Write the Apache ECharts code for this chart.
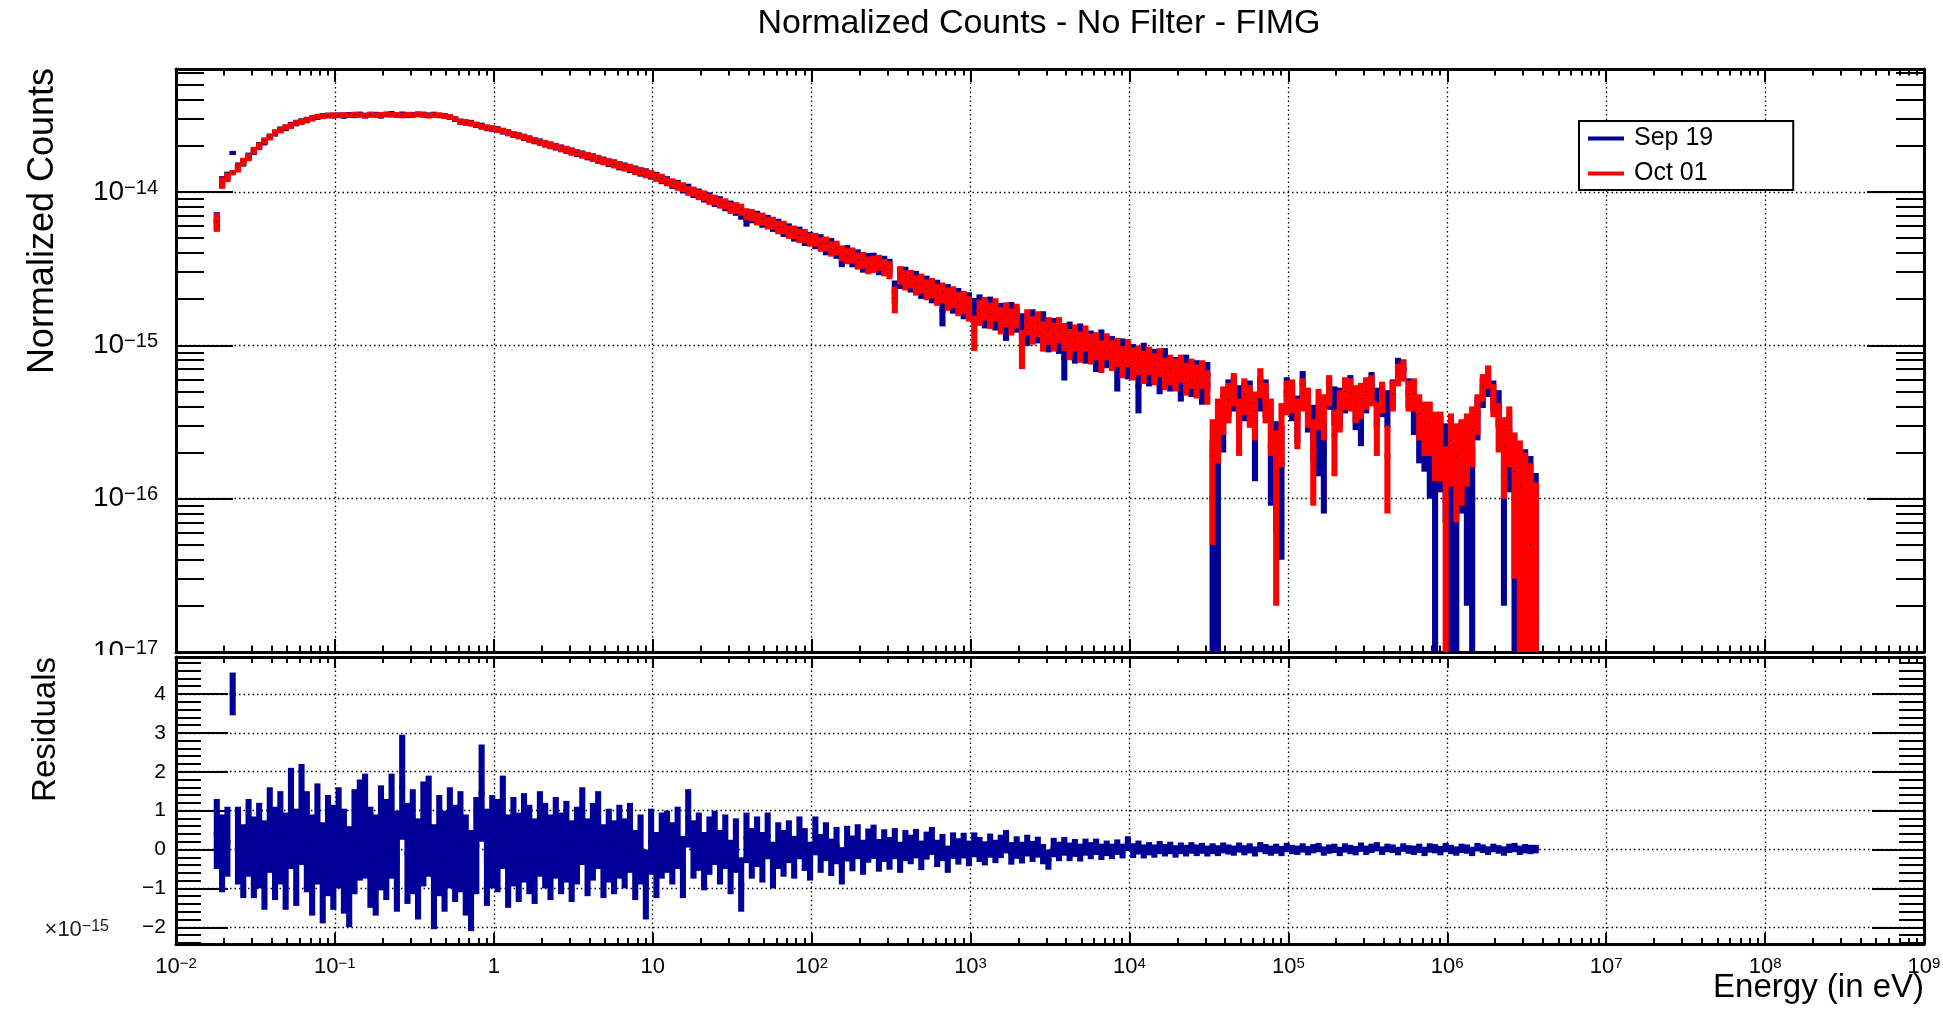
<!DOCTYPE html>
<html>
<head>
<meta charset="utf-8">
<title>Normalized Counts - No Filter - FIMG</title>
<script src="https://cdn.jsdelivr.net/npm/echarts@6/dist/echarts.min.js"></script>
<style>
html, body { margin: 0; padding: 0; background: #fff; }
#chart { width: 1943px; height: 1010px; }
</style>
</head>
<body>
<div id="chart"></div>
<script>
// histogram binning (log spaced bins, same for both runs)
var binLogStart = -1.76;
var binsPerDecade = 30;

// Sep 19 normalized counts, in units of 1e-16
var sep19 = [
    65, 117, 127, 180, 146, 156, 171, 185, 201, 213,
    230, 242, 256, 262, 274, 281, 290, 294, 304, 308,
    314, 317, 315, 318, 314, 320, 317, 322, 316, 319,
    321, 315, 320, 324, 318, 322, 317, 320, 323, 319,
    318, 321, 316, 315, 308, 299, 289, 284, 283, 274,
    271, 262, 259, 257, 249, 245, 237, 234, 227, 223,
    216, 213, 206, 203, 197, 194, 188, 185, 179, 177,
    171, 169, 163, 161, 155, 154, 148, 147, 142, 140,
    135, 134, 129, 127, 121, 119, 113, 112, 106, 106,
    99, 98, 93, 92, 87, 87, 82, 81, 77, 73,
    66, 69, 69, 65, 65, 61, 61, 57, 57, 53,
    54, 50, 50, 47.4, 48.1, 43.7, 45.3, 41.5, 37.2, 40.5,
    36.9, 37.8, 34.3, 35.6, 35.8, 32.9, 34.2, 32.5, 22.5, 27.3,
    28.6, 25.9, 26.8, 23.9, 24.9, 22.4, 23.3, 16.8, 21.6, 19.5,
    20.3, 18.1, 18.9, 17.2, 18.3, 16.0, 17.7, 15.5, 15.9, 13.7,
    16.3, 15.0, 13.4, 12.7, 14.5, 13.0, 14.1, 11.6, 12.6, 11.3,
    8.3, 11.9, 9.9, 11.6, 9.8, 10.3, 8.8, 10.6, 9.1, 9.5,
    7.0, 9.2, 7.9, 8.3, 5.4, 8.6, 7.1, 7.8, 6.5, 8.0,
    6.6, 6.8, 5.8, 7.2, 6.1, 6.5, 5.5, 6.4, 1.0, 1.5,
    3.4, 4.7, 5.0, 4.2, 4.5, 4.6, 2.6, 5.0, 4.7, 2.2,
    1.9, 1.7, 5.0, 4.4, 3.5, 5.6, 3.9, 2.9, 2.6, 2.0,
    5.0, 4.2, 4.1, 4.8, 5.2, 4.0, 3.4, 4.8, 5.5, 4.1,
    4.5, 4.0, 4.9, 7.2, 7.0, 5.0, 3.8, 2.9, 2.7, 2.2,
    1.3, 2.3, 1.9, 1.1, 0.85, 2.0, 1.4, 1.0, 3.5, 5.0,
    5.7, 4.8, 4.0, 1.4, 2.3, 1.0, 0.75, 0.9, 0.7, 0.37
];

// Oct 01 normalized counts, in units of 1e-16
var oct01 = [
    64, 115, 125, 134, 144, 158, 169, 187, 199, 216,
    228, 245, 253, 265, 271, 284, 287, 297, 301, 311,
    312, 315, 318, 316, 319, 317, 321, 318, 315, 322,
    317, 319, 323, 319, 320, 316, 321, 318, 320, 322,
    315, 318, 318, 313, 310, 301, 287, 286, 280, 276,
    267, 264, 261, 255, 251, 243, 239, 232, 229, 221,
    218, 211, 208, 201, 199, 192, 190, 183, 181, 175,
    173, 167, 165, 159, 157, 152, 150, 145, 144, 138,
    137, 132, 131, 125, 123, 117, 115, 110, 108, 102,
    101, 96, 95, 90, 89, 85, 84, 79, 79, 77,
    72, 71, 67, 67, 63, 63, 59, 59, 55, 55,
    52, 52, 49, 49.2, 45.8, 46.3, 42.7, 43.4, 40.1, 38.4,
    38.9, 35.7, 36.2, 33.5, 34.1, 34.8, 32.4, 31.2, 20.2, 28.9,
    26.8, 27.3, 24.9, 25.6, 23.3, 23.9, 21.6, 22.2, 20.3, 20.9,
    18.9, 19.4, 17.6, 12.4, 16.6, 17.6, 15.9, 17.3, 14.8, 16.1,
    14.5, 15.8, 9.8, 14.4, 12.8, 14.0, 11.7, 12.7, 11.6, 12.8,
    11.6, 10.4, 11.4, 10.0, 11.3, 9.7, 10.1, 8.7, 10.0, 8.8,
    9.2, 8.0, 9.1, 7.8, 8.2, 7.4, 8.1, 7.2, 7.9, 6.7,
    7.1, 6.6, 7.2, 6.2, 6.7, 6.0, 6.6, 5.5, 1.9, 3.1,
    4.0, 4.4, 5.3, 3.2, 4.8, 4.2, 3.7, 5.8, 4.4, 3.2,
    1.5, 2.9, 4.7, 4.8, 3.3, 4.9, 4.1, 2.1, 4.0, 3.6,
    5.2, 2.6, 3.9, 5.0, 4.9, 4.3, 4.5, 5.0, 5.2, 3.1,
    4.7, 1.9, 4.8, 6.5, 6.9, 4.8, 4.9, 3.6, 3.1, 3.1,
    2.5, 2.5, 1.0, 2.4, 1.9, 2.1, 2.4, 2.8, 3.7, 5.4,
    6.3, 4.5, 3.1, 2.2, 2.8, 1.5, 1.2, 0.8, 0.5, 0.18
];

// residuals Sep 19 - Oct 01, in units of 1e-15
var resid = [
    0.4, -0.1, 0.2, 4.0, 0.1, -0.3, 0.3, -0.2, 0.1, -0.4,
    0.5, -0.1, 0.3, -0.3, 0.8, -0.2, 0.9, 0.2, -0.4, 0.4,
    -0.6, 0.1, -0.2, 0.3, -0.3, -0.7, 0.2, 0.5, 0.6, -0.2,
    -0.4, 0.3, 0.0, 0.6, -0.3, 1.6, -0.1, 0.2, -0.5, 0.4,
    0.6, -0.7, 0.1, -0.3, 0.3, -0.1, 0.2, -0.4, -0.8, 0.1,
    1.45, -0.2, 0.2, 0.1, 0.7, -0.3, 0.2, -0.2, 0.3, 0.0,
    -0.3, 0.4, 0.1, -0.2, 0.3, -0.1, 0.2, -0.3, 0.1, 0.6,
    -0.2, 0.2, 0.5, -0.3, 0.1, -0.2, 0.2, -0.1, 0.3, -0.4,
    0.0, -0.9, 0.2, -0.4, 0.1, 0.2, -0.1, 0.3, -0.45, 0.8,
    0.0, 0.2, -0.3, 0.1, 0.3, -0.2, 0.2, -0.45, 0.1, -0.9,
    0.3, -0.1, 0.2, -0.2, 0.35, -0.4, 0.1, -0.1, 0.2, -0.2,
    0.3, 0.0, -0.3, 0.35, -0.1, 0.2, -0.2, 0.1, -0.42, 0.15,
    -0.1, 0.2, -0.2, 0.1, 0.2, -0.15, 0.1, -0.1, 0.15, -0.2,
    0.1, 0.0, 0.15, -0.15, 0.1, 0.22, -0.1, 0.05, -0.25, 0.1,
    -0.05, 0.1, -0.1, 0.12, 0.0, -0.1, 0.1, -0.05, 0.08, 0.2,
    -0.1, 0.05, -0.08, 0.1, -0.05, 0.06, -0.12, -0.26, 0.05, -0.05,
    0.08, -0.06, 0.04, -0.08, 0.06, -0.03, 0.07, -0.06, 0.03, -0.05,
    0.06, -0.04, 0.15, -0.03, 0.05, -0.05, 0.02, -0.04, 0.05, -0.02,
    0.04, -0.05, 0.03, -0.03, 0.04, -0.02, 0.03, -0.04, 0.02, -0.03,
    0.04, 0.0, -0.03, 0.05, -0.02, 0.03, -0.05, 0.06, 0.01, -0.03,
    0.02, -0.04, 0.05, 0.0, -0.02, 0.04, -0.03, 0.02, 0.05, -0.04,
    0.01, 0.03, -0.05, 0.04, 0.0, -0.03, 0.06, -0.02, 0.03, 0.07,
    -0.03, 0.04, 0.02, -0.04, 0.05, 0.0, -0.02, 0.03, -0.05, 0.04,
    0.02, -0.03, 0.05, 0.0, -0.04, 0.03, 0.01, -0.05, 0.06, 0.02,
    -0.03, 0.04, 0.0, -0.04, 0.03, 0.05, -0.02, 0.02, 0.0, 0.01
];

// error of the residuals, in units of 1e-15
var residErr = [
    0.9, 1.0, 0.9, 0.55, 1.0, 0.95, 1.0, 1.05, 1.1, 1.15,
    1.1, 1.2, 1.2, 1.25, 1.3, 1.25, 1.3, 1.3, 1.3, 1.3,
    1.3, 1.3, 1.35, 1.3, 1.35, 1.3, 1.35, 1.3, 1.35, 1.3,
    1.3, 1.35, 1.3, 1.35, 1.3, 1.35, 1.3, 1.35, 1.3, 1.35,
    1.3, 1.35, 1.3, 1.3, 1.3, 1.25, 1.3, 1.3, 1.3, 1.25,
    1.25, 1.25, 1.2, 1.2, 1.2, 1.2, 1.15, 1.15, 1.15, 1.15,
    1.1, 1.1, 1.1, 1.1, 1.05, 1.05, 1.05, 1.05, 1.0, 1.0,
    1.0, 1.0, 1.0, 0.95, 0.95, 0.95, 0.95, 0.9, 0.9, 0.9,
    0.9, 0.9, 0.85, 0.85, 0.85, 0.8, 0.8, 0.8, 0.8, 0.75,
    0.75, 0.75, 0.75, 0.75, 0.7, 0.7, 0.7, 0.7, 0.7, 0.7,
    0.65, 0.65, 0.65, 0.65, 0.6, 0.6, 0.6, 0.6, 0.55, 0.55,
    0.55, 0.55, 0.5, 0.5, 0.5, 0.5, 0.48, 0.48, 0.48, 0.46,
    0.46, 0.45, 0.45, 0.44, 0.44, 0.42, 0.42, 0.42, 0.4, 0.4,
    0.4, 0.38, 0.38, 0.38, 0.36, 0.36, 0.35, 0.35, 0.35, 0.34,
    0.34, 0.33, 0.33, 0.32, 0.32, 0.31, 0.31, 0.3, 0.3, 0.3,
    0.29, 0.29, 0.28, 0.28, 0.27, 0.27, 0.26, 0.26, 0.25, 0.25,
    0.24, 0.24, 0.23, 0.23, 0.22, 0.22, 0.21, 0.21, 0.2, 0.2,
    0.2, 0.19, 0.19, 0.19, 0.18, 0.18, 0.17, 0.17, 0.17, 0.16,
    0.16, 0.16, 0.15, 0.15, 0.15, 0.15, 0.14, 0.14, 0.14, 0.14,
    0.14, 0.13, 0.13, 0.13, 0.13, 0.13, 0.13, 0.13, 0.13, 0.13,
    0.13, 0.13, 0.12, 0.12, 0.12, 0.12, 0.12, 0.12, 0.12, 0.12,
    0.12, 0.12, 0.12, 0.12, 0.12, 0.12, 0.12, 0.12, 0.12, 0.12,
    0.11, 0.11, 0.11, 0.11, 0.11, 0.11, 0.12, 0.12, 0.12, 0.12,
    0.12, 0.12, 0.12, 0.12, 0.12, 0.12, 0.12, 0.12, 0.11, 0.11,
    0.11, 0.11, 0.11, 0.12, 0.12, 0.12, 0.12, 0.12, 0.12, 0.11
];

var seriesNames = ['Sep 19', 'Oct 01'];

// axis ranges
var xMin = 1e-2, xMax = 1e9;
var yMin = 1e-17, yMax = 6.35e-14;
var resMin = -2.43, resMax = 4.95;

var blue = '#000099';
var red = '#ff0000';
var font = "'Liberation Sans', Arial, Helvetica, sans-serif";

var myChart = echarts.init(document.getElementById('chart'));

function binLow(i) {
    return Math.pow(10, binLogStart + i / binsPerDecade);
}

// [bin centre, value, low edge, high edge, error]
function histData(vals, errs, scale, errScale) {
    var out = [];
    for (var i = 0; i < vals.length; i++) {
        var lo = binLow(i), hi = binLow(i + 1);
        out.push([(lo + hi) / 2, vals[i] * scale, lo, hi, errs[i] * errScale]);
    }
    return out;
}

// ROOT style "E" drawing: bin width line + error band + small black marker
function histItem(color, floor, lw) {
    return function (params, api) {
        var xc = api.value(0), v = api.value(1);
        var lo = api.value(2), hi = api.value(3), e = api.value(4);
        var b = v - e;
        if (floor != null && b < floor) b = floor;
        var pC = api.coord([xc, v]);
        var pL = api.coord([lo, v]);
        var pR = api.coord([hi, v]);
        var pB = api.coord([xc, b]);
        var pT = api.coord([xc, v + e]);
        var w = pR[0] - pL[0];
        var mid = (pL[0] + pR[0]) / 2;
        return {
            type: 'group',
            children: [
                {
                    type: 'rect',
                    shape: { x: pL[0] - 0.4, y: pC[1] - lw / 2, width: w + 0.8, height: lw },
                    style: { fill: color }
                },
                {
                    type: 'rect',
                    shape: { x: pL[0] - 0.4, y: pT[1], width: w + 0.8, height: pB[1] - pT[1] },
                    style: { fill: color }
                },
                {
                    type: 'rect',
                    shape: { x: mid - 0.5, y: pC[1] - 0.5, width: 1, height: 1 },
                    style: { fill: '#000' }
                }
            ]
        };
    };
}

function powLabel(v) {
    var n = Math.round(Math.log10(v));
    if (n === 0) return '{b|1}';
    if (n === 1) return '{b|10}';
    return '{b|10}{s|' + (n < 0 ? '\u2212' + (-n) : n) + '}';
}

function resLabel(v) {
    return v < 0 ? '\u2212' + (-v) : String(v);
}

var dotted = { color: '#000', width: 1.3, type: [1.5, 3] };
var frame = { onZero: false, lineStyle: { color: '#000', width: 3 } };

function tick(len) {
    return { show: true, inside: true, length: len, lineStyle: { color: '#000', width: 2 } };
}
function minor(len, n) {
    return { show: true, splitNumber: n, length: len, lineStyle: { color: '#000', width: 2 } };
}

var option = {
    animation: false,
    backgroundColor: '#fff',
    textStyle: { fontFamily: font },
    legend: {
        data: seriesNames,
        orient: 'vertical',
        left: 1579,
        top: 121,
        padding: [5, 80, 4, 9],
        itemGap: 10,
        itemWidth: 36,
        itemHeight: 4,
        icon: 'rect',
        selectedMode: false,
        backgroundColor: '#fff',
        borderColor: '#000',
        borderWidth: 2,
        textStyle: { fontSize: 25, color: '#000', fontFamily: font, padding: [0, 0, 0, 5] }
    },
    grid: [
        { left: 176, right: 19, top: 69, height: 583, outerBoundsMode: 'none' },
        { left: 176, right: 19, top: 657, height: 287, outerBoundsMode: 'none' }
    ],
    xAxis: [
        {
            type: 'log', gridIndex: 0, min: xMin, max: xMax, interval: 1, splitNumber: 11,
            axisLine: frame, axisTick: tick(13), minorTick: minor(6.5, 9),
            axisLabel: { show: false }, splitLine: { show: true, lineStyle: dotted }
        },
        {
            type: 'log', gridIndex: 0, position: 'top', min: xMin, max: xMax, interval: 1, splitNumber: 11,
            axisLine: frame, axisTick: tick(13), minorTick: minor(6.5, 9),
            axisLabel: { show: false }, splitLine: { show: false }
        },
        {
            type: 'log', gridIndex: 1, min: xMin, max: xMax, interval: 1, splitNumber: 11,
            axisLine: frame, axisTick: tick(11), minorTick: minor(6, 9),
            axisLabel: {
                margin: 12, formatter: powLabel, showMinLabel: true, showMaxLabel: true,
                rich: {
                    b: { fontSize: 22, color: '#000', fontFamily: font },
                    s: { fontSize: 15, color: '#000', fontFamily: font, verticalAlign: 'top' }
                }
            },
            splitLine: { show: true, lineStyle: dotted }
        },
        {
            type: 'log', gridIndex: 1, position: 'top', min: xMin, max: xMax, interval: 1, splitNumber: 11,
            axisLine: frame, axisTick: tick(11), minorTick: minor(6, 9),
            axisLabel: { show: false }, splitLine: { show: false }
        }
    ],
    yAxis: [
        {
            type: 'log', gridIndex: 0, min: yMin, max: yMax, interval: 1,
            axisLine: frame, axisTick: tick(57), minorTick: minor(28, 9),
            axisLabel: {
                margin: 18, formatter: powLabel, showMinLabel: true, showMaxLabel: false,
                rich: {
                    b: { fontSize: 28, color: '#000', fontFamily: font },
                    s: { fontSize: 20, color: '#000', fontFamily: font, verticalAlign: 'top' }
                }
            },
            splitLine: { show: true, lineStyle: dotted }
        },
        {
            type: 'log', gridIndex: 0, position: 'right', min: yMin, max: yMax, interval: 1,
            axisLine: frame, axisTick: tick(57), minorTick: minor(28, 9),
            axisLabel: { show: false }, splitLine: { show: false }
        },
        {
            type: 'value', gridIndex: 1, min: resMin, max: resMax, splitNumber: 7,
            axisLine: frame, axisTick: tick(52), minorTick: minor(25, 5),
            axisLabel: {
                margin: 10, fontSize: 21, color: '#000', fontFamily: font,
                formatter: resLabel, showMinLabel: false, showMaxLabel: false
            },
            splitLine: { show: true, lineStyle: dotted }
        },
        {
            type: 'value', gridIndex: 1, position: 'right', min: resMin, max: resMax, splitNumber: 7,
            axisLine: frame, axisTick: tick(52), minorTick: minor(25, 5),
            axisLabel: { show: false }, splitLine: { show: false }
        }
    ],
    graphic: [
        // lower pad covers the bottom of the upper pad's last label, as in ROOT
        { type: 'rect', z: 90, shape: { x: 0, y: 655, width: 174, height: 16 }, style: { fill: '#fff' } },
        {
            type: 'text', z: 100, x: 1039, y: 7,
            style: { text: 'Normalized Counts - No Filter - FIMG', font: '34px ' + font, fill: '#000', align: 'center', verticalAlign: 'top' }
        },
        {
            type: 'text', z: 100, x: 43, y: 68, rotation: Math.PI / 2,
            style: { text: 'Normalized Counts', font: '36px ' + font, fill: '#000', align: 'right', verticalAlign: 'middle' }
        },
        {
            type: 'text', z: 100, x: 46, y: 657, rotation: Math.PI / 2,
            style: { text: 'Residuals', font: '33px ' + font, fill: '#000', align: 'right', verticalAlign: 'middle' }
        },
        {
            type: 'text', z: 100, x: 1924, y: 1004,
            style: { text: 'Energy (in eV)', font: '33px ' + font, fill: '#000', align: 'right', verticalAlign: 'bottom' }
        },
        {
            type: 'text', z: 100, x: 109, y: 930,
            style: {
                text: '{b|\u00d710}{s|\u221215}', align: 'right', verticalAlign: 'middle',
                rich: {
                    b: { fontSize: 22, fill: '#222', fontFamily: font },
                    s: { fontSize: 16, fill: '#222', fontFamily: font, verticalAlign: 'top' }
                }
            }
        }
    ],
    series: [
        {
            name: seriesNames[0], type: 'custom', xAxisIndex: 0, yAxisIndex: 0, clip: true,
            itemStyle: { color: blue },
            encode: { x: 0, y: 1 },
            renderItem: histItem(blue, yMin, 4),
            data: histData(sep19, residErr, 1e-16, 1e-15)
        },
        {
            name: seriesNames[1], type: 'custom', xAxisIndex: 0, yAxisIndex: 0, clip: true,
            itemStyle: { color: red },
            encode: { x: 0, y: 1 },
            renderItem: histItem(red, yMin, 4),
            data: histData(oct01, residErr, 1e-16, 1e-15)
        },
        {
            name: 'Residuals', type: 'custom', xAxisIndex: 2, yAxisIndex: 2, clip: true,
            itemStyle: { color: blue },
            encode: { x: 0, y: 1 },
            renderItem: histItem(blue, null, 3.5),
            data: histData(resid, residErr, 1, 1)
        }
    ]
};

myChart.setOption(option);
</script>
</body>
</html>
